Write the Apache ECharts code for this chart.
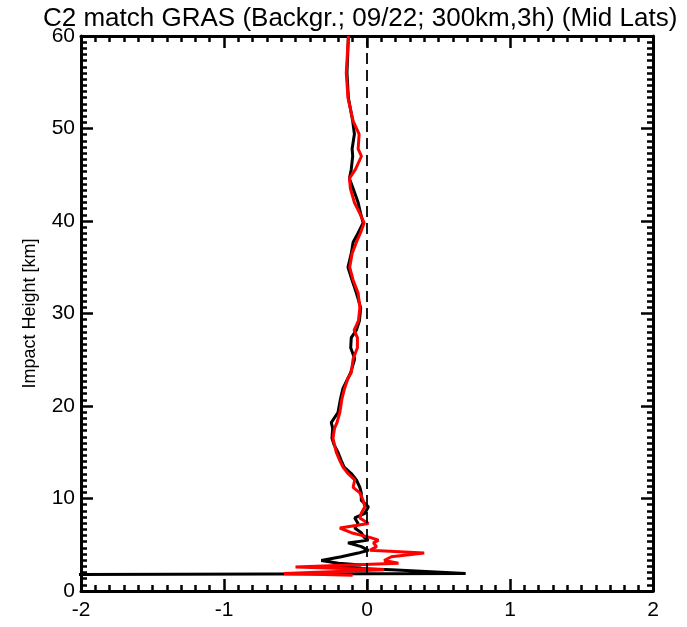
<!DOCTYPE html>
<html>
<head>
<meta charset="utf-8">
<script src="https://cdn.jsdelivr.net/npm/echarts@6/dist/echarts.min.js"></script>
<style>html,body{margin:0;padding:0;background:#fff}#c{width:687px;height:627px}</style>
</head>
<body>
<div id="c"></div>
<script>
var titleText = 'C2 match GRAS (Backgr.; 09/22; 300km,3h) (Mid Lats)';
var yAxisName = 'Impact Height [km]';
var heights = [60, 56, 53.3, 50.8, 49.4, 47.8, 47, 45.6, 44.6, 43.5, 42, 40.9, 39.8, 38.7, 37.7, 36.5, 35, 33.6, 32.2, 30.6, 29.2, 28.2, 27.4, 26.3, 25.1, 23.6, 23, 21.9, 20.8, 19.3, 18.2, 17.6, 16.5, 15.8, 15, 14.1, 13.4, 12.7, 12, 11.2, 10.6, 9.8, 9.1, 8.4, 7.9, 7.3, 6.8, 6.3, 5.8, 5.5, 5.2, 4.8, 4.4, 4.1, 3.7, 3.3, 3.0, 2.8, 2.6, 2.3, 1.9];
var blackValues = [-0.13, -0.14, -0.13, -0.10, -0.088, -0.104, -0.10, -0.11, -0.123, -0.097, -0.062, -0.046, -0.027, -0.062, -0.097, -0.11, -0.133, -0.104, -0.074, -0.044, -0.053, -0.074, -0.11, -0.114, -0.086, -0.114, -0.133, -0.168, -0.185, -0.203, -0.25, -0.24, -0.245, -0.23, -0.203, -0.18, -0.16, -0.11, -0.074, -0.05, -0.04, -0.04, 0.01, -0.015, -0.086, -0.062, -0.086, -0.04, -0.02, 0.01, -0.133, -0.04, 0.01, -0.062, -0.18, -0.32, -0.2, -0.04, -0.34, 0.17, 0.69];
var redValues = [-0.13, -0.145, -0.133, -0.097, -0.055, -0.062, -0.039, -0.08, -0.123, -0.116, -0.088, -0.053, -0.02, -0.046, -0.074, -0.104, -0.121, -0.097, -0.062, -0.05, -0.06, -0.09, -0.067, -0.067, -0.097, -0.11, -0.133, -0.157, -0.175, -0.19, -0.21, -0.227, -0.238, -0.227, -0.215, -0.19, -0.168, -0.133, -0.086, -0.097, -0.05, -0.027, -0.015, -0.04, -0.05, 0.01, -0.19, -0.11, 0.02, 0.08, 0.045, 0.067, 0.02, 0.40, 0.17, 0.12, 0.22, 0.22, -0.50, 0.12, -0.58];
var blackTail = [[-3.0, 1.75]];
var redTail = [[-0.1, 1.7]];
var xTicks = [-2, -1, 0, 1, 2];
var yTicks = [0, 10, 20, 30, 40, 50, 60];

function pairs(vals, hs, tail) {
  var out = [];
  for (var i = 0; i < vals.length; i++) out.push([vals[i], hs[i]]);
  return out.concat(tail);
}

var font = 'Liberation Sans, Arial, Helvetica, sans-serif';
var chart = echarts.init(document.getElementById('c'), null, {renderer: 'canvas'});
var axisLine = {show: true, onZero: false, lineStyle: {color: '#000', width: 3}};
function xAx(pos, showLabel) {
  return {
    type: 'value', position: pos, min: xTicks[0], max: xTicks[xTicks.length - 1], interval: 1,
    axisLine: axisLine,
    axisTick: {show: true, inside: true, length: 12, lineStyle: {color: '#000', width: 2.5}},
    minorTick: {show: true, splitNumber: 10, length: 6, lineStyle: {color: '#000', width: 2.5}},
    axisLabel: {show: showLabel, color: '#000', fontSize: 21, fontFamily: font, margin: 9},
    splitLine: {show: false}
  };
}
function yAx(pos, showLabel) {
  return {
    type: 'value', position: pos, min: yTicks[0], max: yTicks[yTicks.length - 1], interval: 10,
    name: showLabel ? yAxisName : '', nameLocation: 'middle', nameGap: 42,
    nameTextStyle: {color: '#000', fontSize: 18, fontFamily: font},
    axisLine: axisLine,
    axisTick: {show: true, inside: true, length: 12, lineStyle: {color: '#000', width: 2.5}},
    minorTick: {show: true, splitNumber: 15, length: 6, lineStyle: {color: '#000', width: 2.5}},
    axisLabel: {show: showLabel, color: '#000', fontSize: 21, fontFamily: font, margin: 6},
    splitLine: {show: false}
  };
}

chart.setOption({
  backgroundColor: '#fff',
  animation: false,
  title: {
    text: titleText, left: 38, top: 1,
    textStyle: {color: '#000', fontSize: 26, fontWeight: 'normal', fontFamily: font}
  },
  grid: {left: 81, right: 34, top: 36, bottom: 36, containLabel: false},
  xAxis: [xAx('bottom', true), xAx('top', false)],
  yAxis: [yAx('left', true), yAx('right', false)],
  series: [
    {
      type: 'line', xAxisIndex: 0, yAxisIndex: 0, showSymbol: false, symbol: 'none',
      data: pairs(blackValues, heights, blackTail),
      lineStyle: {color: '#000', width: 3}, clip: true,
      markLine: {
        silent: true, symbol: 'none', label: {show: false},
        lineStyle: {color: '#000', width: 1.8, type: [11, 6]},
        data: [{xAxis: 0}]
      }
    },
    {
      type: 'line', xAxisIndex: 0, yAxisIndex: 0, showSymbol: false, symbol: 'none',
      data: pairs(redValues, heights, redTail),
      lineStyle: {color: '#ff0000', width: 3}, clip: true
    }
  ]
});
</script>
</body>
</html>
